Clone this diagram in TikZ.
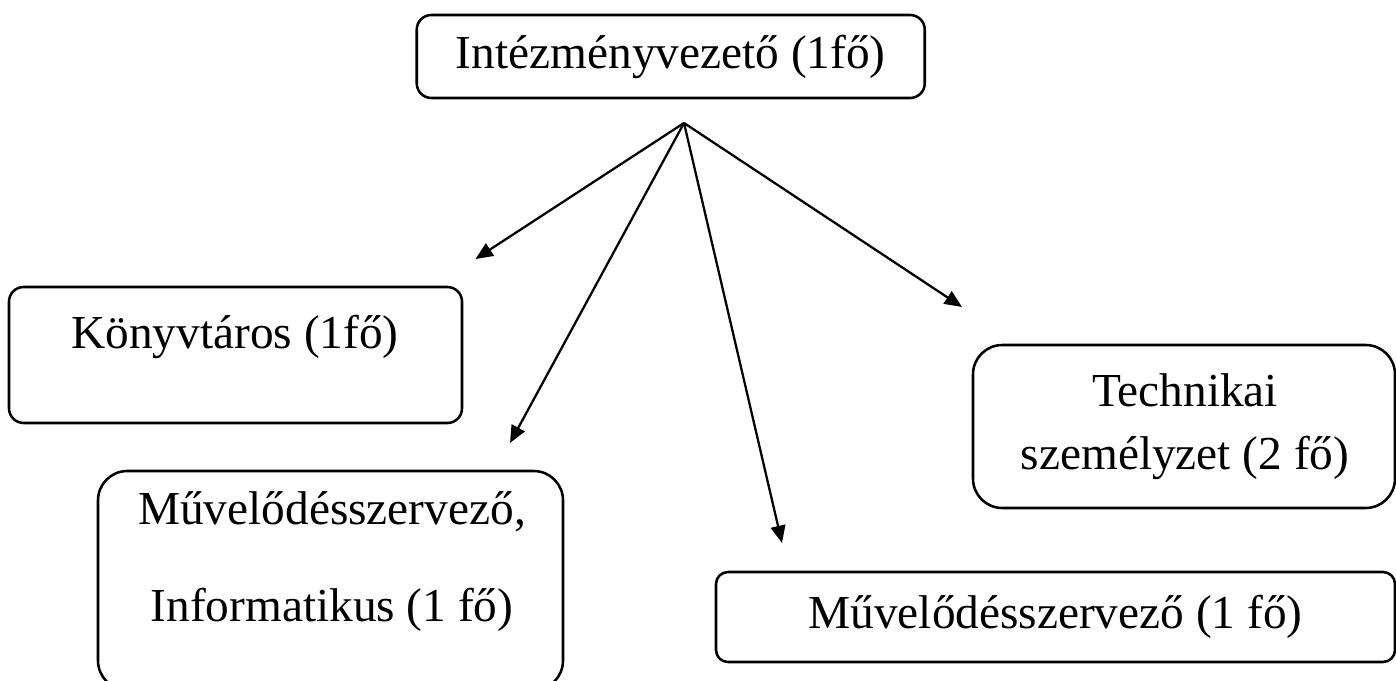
\documentclass[tikz,border=0pt]{standalone}
\usepackage{fontspec}
\setmainfont{Liberation Serif}
\usetikzlibrary{arrows.meta}
\begin{document}
\begin{tikzpicture}[x=0.75pt,y=-0.75pt,
  box/.style={draw, line width=1.9pt, rounded corners=#1, inner sep=0pt},
  box/.default=11pt,
  lbl/.style={font=\fontsize{35.5}{44}\selectfont, inner sep=0pt, align=center},
  arr/.style={line width=1.7pt, -{Triangle[length=13pt,width=11pt]}}]
\useasboundingbox (0,0) rectangle (1396,681);
\fill[white] (0,0) rectangle (1396,681);
% boxes
\node[box=11pt, lbl, minimum width=381pt, minimum height=62.25pt] (top) at (670.75,56.5) {Intézményvezető (1fő)};
\node[box=11pt, minimum width=339.75pt, minimum height=102pt] (kb) at (235.5,355) {};
\node[lbl] (kt) at (235,337) {Könyvtáros (1fő)};
\node[box=22pt, minimum width=348.75pt, minimum height=164.25pt] (mib) at (330.5,580.5) {};
\node[lbl, font=\fontsize{35.5}{72.75}\selectfont] (mit) at (332,561.5) {Művelődésszervező,\\Informatikus (1 fő)};
\node[box=22pt, minimum width=316.5pt, minimum height=122.25pt] (tb) at (1184,426.5) {};
\node[lbl, font=\fontsize{35.5}{47.25}\selectfont] (tt) at (1185,426.5) {Technikai\\személyzet (2 fő)};
\node[box=9pt, lbl, minimum width=509.25pt, minimum height=67.5pt] (mb) at (1055.5,617) {Művelődésszervező (1 fő)};
% connectors
\coordinate (o) at (684,123);
\coordinate (t1) at (475.5,259);
\coordinate (t2) at (510,443);
\coordinate (t3) at (782,543);
\coordinate (t4) at (962,307);
\draw[arr] (o) -- (t1);
\draw[arr] (o) -- (t2);
\draw[arr] (o) -- (t3);
\draw[arr] (o) -- (t4);
\end{tikzpicture}
\end{document}
